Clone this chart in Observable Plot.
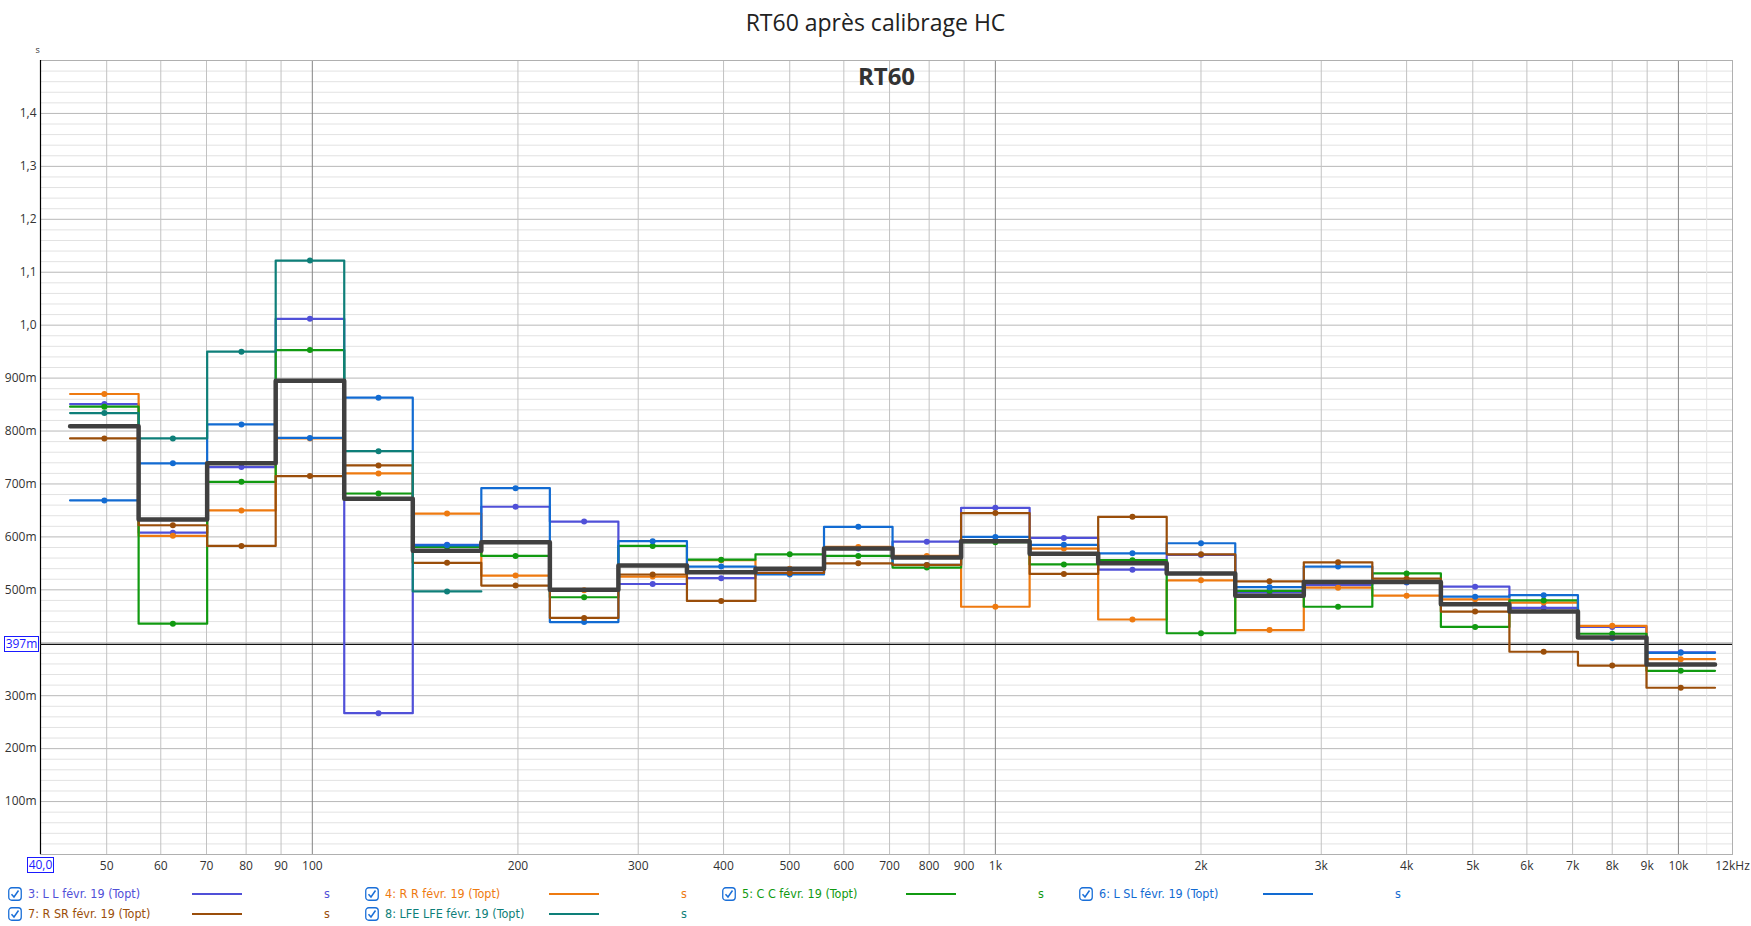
<!DOCTYPE html>
<html><head><meta charset="utf-8">
<script src="https://cdn.jsdelivr.net/npm/d3@7"></script>
<script src="https://cdn.jsdelivr.net/npm/@observablehq/plot@0.6"></script>
<style>
body{margin:0;background:#fff;font-family:"Open Sans","Noto Sans",sans-serif;}
#wrap{position:relative;width:1751px;height:926px;overflow:hidden;}
#title{position:absolute;top:6px;left:0;width:1751px;text-align:center;font-size:23px;color:#222;}
#chart{position:absolute;left:0;top:0;}
.box{position:absolute;border:1px solid #1a1aff;color:#1a1aff;font-size:12px;line-height:14px;background:#fff;text-align:center;font-family:"Open Sans",sans-serif;}
.leg{position:absolute;font-family:"Liberation Sans Narrow","DejaVu Sans Condensed",sans-serif;font-stretch:condensed;font-size:12.5px;line-height:16px;white-space:nowrap;}
.leg svg{position:absolute;left:0;top:1px;}
.leg .lab{position:absolute;left:20px;top:0;}
.leg .ln{position:absolute;left:184px;top:7px;width:50px;height:2px;}
.leg .u{position:absolute;left:316px;top:0;}
</style></head>
<body><div id="wrap"><div id="title">RT60 après calibrage HC</div><div id="chart"></div></div>
<script>
// third-octave band centres (nominal), first band index k=-13 relative to 1 kHz
const bands = [50,63,80,100,125,160,200,250,315,400,500,630,800,1000,1250,1600,2000,2500,3150,4000,5000,6300,8000,10000];
const firstBandIndex = -13;

const L   = [0.851,0.608,0.732,1.012,0.267,0.585,0.657,0.629,0.511,0.522,0.532,0.578,0.591,0.655,0.598,0.538,0.566,0.495,0.509,0.514,0.506,0.466,0.430,0.382];
const R   = [0.870,0.602,0.650,0.786,0.720,0.644,0.527,0.499,0.525,0.556,0.540,0.581,0.564,0.468,0.578,0.444,0.518,0.424,0.504,0.489,0.482,0.476,0.432,0.369];
const C   = [0.846,0.436,0.704,0.953,0.682,0.581,0.564,0.486,0.583,0.557,0.567,0.564,0.542,0.590,0.548,0.556,0.418,0.498,0.468,0.531,0.430,0.480,0.417,0.347];
const SL  = [0.669,0.739,0.8125,0.787,0.863,0.584,0.692,0.439,0.592,0.544,0.529,0.619,0.547,0.600,0.585,0.569,0.588,0.505,0.544,0.515,0.487,0.490,0.409,0.381];
const SR  = [0.786,0.622,0.583,0.715,0.735,0.551,0.508,0.447,0.529,0.479,0.532,0.550,0.547,0.645,0.530,0.638,0.567,0.516,0.552,0.521,0.459,0.383,0.357,0.315];
const LFE = [0.834,0.786,0.950,1.122,0.762,0.497];
const AVG = [0.809,0.633,0.739,0.895,0.672,0.574,0.590,0.500,0.546,0.533,0.540,0.578,0.561,0.592,0.568,0.550,0.531,0.489,0.515,0.515,0.473,0.459,0.410,0.359];

const seriesNames = ["3: L L févr. 19 (Topt)","4: R R févr. 19 (Topt)","5: C C févr. 19 (Topt)","6: L SL févr. 19 (Topt)","7: R SR févr. 19 (Topt)","8: LFE LFE févr. 19 (Topt)"];
const seriesColors = ["#5050d8","#ee7a10","#119a11","#126bd2","#9a4e0a","#0e7f79"];
const seriesValues = [L,R,C,SL,SR,LFE];

const yTicks = [0.1,0.2,0.3,0.4,0.5,0.6,0.7,0.8,0.9,1.0,1.1,1.2,1.3,1.4];
const yTickLabels = ["100m","200m","300m","400m","500m","600m","700m","800m","900m","1,0","1,1","1,2","1,3","1,4"];
const xTicks = [40,50,60,70,80,90,100,200,300,400,500,600,700,800,900,1000,2000,3000,4000,5000,6000,7000,8000,9000,10000,12000];
const xTickLabels = ["40,0","50","60","70","80","90","100","200","300","400","500","600","700","800","900","1k","2k","3k","4k","5k","6k","7k","8k","9k","10k","12kHz"];
const xGridDark = [100,1000,10000];
const xGridLight = [50,60,70,80,90,200,300,400,500,600,700,800,900,2000,3000,4000,5000,6000,7000,8000,9000];
const xGridFaint = [11000];
const cursorValue = 0.397;
const cursorLabel = "397m";

const centre = i => 1000*Math.pow(2,(i+firstBandIndex)/3);
const stepPts = vals => vals.flatMap((v,i)=>[{x:centre(i)*Math.pow(2,-1/6),y:v},{x:centre(i)*Math.pow(2,1/6),y:v}]);
const dotPts = vals => vals.map((v,i)=>({x:centre(i),y:v}));

const yMinor = d3.range(1,75).map(k=>k*0.02).filter(v=>Math.abs(v*10-Math.round(v*10))>1e-6);
const yMajor = d3.range(1,15).map(k=>k*0.1);
const xLabelTicks = xTicks.map((t,i)=>({t,label:xTickLabels[i]})).slice(1);
const yLabelTicks = yTicks.map((t,i)=>({t,label:yTickLabels[i]}));

const marks = [
  Plot.ruleY(yMinor,{stroke:"#e2e2e2",strokeWidth:1}),
  Plot.ruleY(yMajor,{stroke:"#b8b8b8",strokeWidth:1}),
  Plot.ruleX(xGridFaint,{stroke:"#e4e4e4",strokeWidth:1}),
  Plot.ruleX(xGridLight,{stroke:"#c2c2c2",strokeWidth:1}),
  Plot.ruleX(xGridDark,{stroke:"#858585",strokeWidth:1}),
  Plot.frame({stroke:"#b0b0b0"}),
  Plot.ruleX([40],{stroke:"#000",strokeWidth:1.2}),
  Plot.ruleY([cursorValue],{stroke:"#111",strokeWidth:1.2}),
  Plot.text(yLabelTicks,{y:"t",text:"label",frameAnchor:"left",textAnchor:"end",dx:-4,fontSize:12,fill:"#333"}),
  Plot.text(xLabelTicks,{x:"t",text:"label",frameAnchor:"bottom",lineAnchor:"middle",dy:12,fontSize:12,fill:"#333"}),
  Plot.text(["RT60"],{frameAnchor:"top",lineAnchor:"middle",dy:17,fontWeight:"bold",fontSize:24,fill:"#333"}),
  Plot.text(["s"],{frameAnchor:"top-left",lineAnchor:"middle",dx:-5,dy:-10,fontSize:9,fill:"#333"})
];
seriesValues.forEach((vals,k)=>{
  marks.push(Plot.line(stepPts(vals),{x:"x",y:"y",stroke:seriesColors[k],strokeWidth:2.2}));
  marks.push(Plot.dot(dotPts(vals),{x:"x",y:"y",r:3,fill:seriesColors[k],stroke:"none"}));
});
marks.push(Plot.line(stepPts(AVG),{x:"x",y:"y",stroke:"#404040",strokeWidth:4.5}));

const plot = Plot.plot({
  width:1751,height:880,
  marginLeft:40,marginRight:19,marginTop:60,marginBottom:26,
  x:{type:"log",domain:[40,12000],axis:null},
  y:{domain:[0,1.5],axis:null},
  style:{background:"transparent",fontFamily:"'Open Sans','Noto Sans',sans-serif",fontSize:"12px",overflow:"visible"},
  marks
});
const wrap = document.getElementById("wrap");
document.getElementById("chart").appendChild(plot);

// cursor value box and x start box
const ys = plot.scale("y"), xs = plot.scale("x");
const b1 = document.createElement("div");
b1.className="box"; b1.textContent=cursorLabel;
b1.style.left="4px"; b1.style.width="33px"; b1.style.top=(ys.apply(cursorValue)-8)+"px";
wrap.appendChild(b1);
const b2 = document.createElement("div");
b2.className="box"; b2.textContent=xTickLabels[0];
b2.style.left=(xs.apply(xTicks[0])-13)+"px"; b2.style.width="25px"; b2.style.top=(ys.apply(0)+3)+"px";
wrap.appendChild(b2);

// legend
const check = c => `<svg width="14" height="14" viewBox="0 0 14 14"><rect x="0.75" y="0.75" width="12.5" height="12.5" rx="3" fill="#fff" stroke="#1a6fd8" stroke-width="1.3"/><path d="M3.5 7.2 L6 10 L10.5 3.5" fill="none" stroke="#1a6fd8" stroke-width="1.5"/></svg>`;
const colX = [8,365,722,1079];
seriesNames.forEach((name,k)=>{
  const row = k<4?0:1, col = k<4?k:k-4;
  const d = document.createElement("div");
  d.className="leg";
  d.style.left=colX[col]+"px"; d.style.top=(886+row*20)+"px";
  d.style.width="340px"; d.style.height="16px";
  d.innerHTML = check() + `<span class="lab" style="color:${seriesColors[k]}">${name}</span><div class="ln" style="background:${seriesColors[k]}"></div><span class="u" style="color:${seriesColors[k]}">s</span>`;
  wrap.appendChild(d);
});
</script>
</body></html>
